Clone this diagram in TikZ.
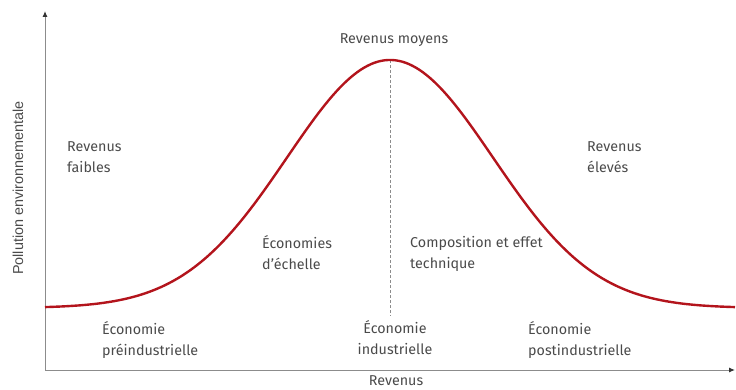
\documentclass[tikz,border=0pt]{standalone}
\usepackage{fontspec}
\setmainfont{Fira Sans}
\newfontfamily\axisfont{Liberation Sans}
\usetikzlibrary{arrows.meta}
\definecolor{curvered}{HTML}{B3141C}
\definecolor{txtgray}{HTML}{4A4A4A}
\definecolor{axisgray}{HTML}{8C8C8C}
\tikzset{
  lbl/.style={font=\fontsize{14.3}{21}\selectfont, text=txtgray, align=left, inner sep=0pt, anchor=north west},
  axisline/.style={draw=axisgray, line width=1pt, -{Latex[length=6pt,width=5pt,color=black!80]}},
}
\begin{document}
\begin{tikzpicture}[x=1pt,y=-1pt]
\useasboundingbox (0,0) rectangle (736,390);
\coordinate (O) at (45,370);
\coordinate (ytop) at (45,11);
\coordinate (xend) at (735,370);
\draw[axisline] (O) -- (ytop);
\draw[axisline] (O) -- (xend);
\coordinate (peak) at (390,60);
\coordinate (dashend) at (390,316);
\draw[axisgray, dashed, dash pattern=on 3pt off 2pt, line width=0.7pt] (peak) -- (dashend);
\draw[curvered, line width=2.4pt, domain=45:735, samples=200] plot (\x, {308 - 248*exp(-((\x-390)/103)^2/2)});
\node[lbl, anchor=center] (moy) at (394,40) {Revenus moyens};
\node[lbl] (faib) at (67,141) {Revenus\\faibles};
\node[lbl] (elev) at (587,141) {Revenus\\élevés};
\node[lbl] (ech) at (262,235) {Économies\\d’échelle};
\node[lbl] (comp) at (410,236) {Composition et effet\\technique};
\node[lbl] (pre) at (102,321) {Économie\\préindustrielle};
\node[lbl, align=center, anchor=north] (ind) at (395,320) {Économie\\industrielle};
\node[lbl] (post) at (528,321) {Économie\\postindustrielle};
\node[lbl, anchor=center] (rev) at (396,381) {Revenus};
\node[font=\axisfont\fontsize{14.4}{16}\selectfont, text=txtgray, rotate=90, inner sep=0pt] (poll) at (18,188) {Pollution environnementale};
\end{tikzpicture}
\end{document}
